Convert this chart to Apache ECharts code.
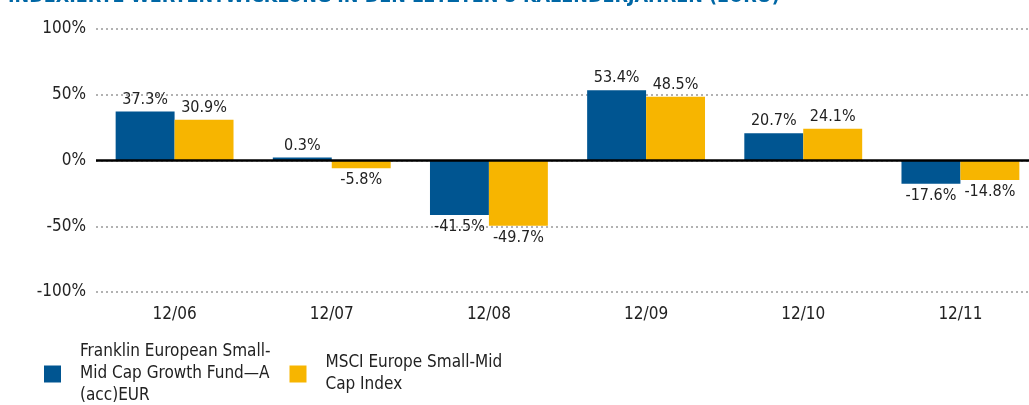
<!DOCTYPE html>
<html>
<head>
<meta charset="utf-8">
<script src="https://cdn.jsdelivr.net/npm/echarts@6/dist/echarts.min.js"></script>
<style>
  html, body { margin: 0; padding: 0; background: #fff; }
  #chart { width: 1029px; height: 405px; }
</style>
</head>
<body>
<div id="chart"></div>
<script>
// Jahre (Kalenderjahre)
const categories = ['12/06', '12/07', '12/08', '12/09', '12/10', '12/11'];
// Fonds und Index in %
const fundValues = [37.3, 0.3, -41.5, 53.4, 20.7, -17.6];
const indexValues = [30.9, -5.8, -49.7, 48.5, 24.1, -14.8];
const fundName = 'Franklin European Small-Mid Cap Growth Fund—A (acc)EUR';
const indexName = 'MSCI Europe Small-Mid Cap Index';

const FONT = "'Liberation Sans Narrow', 'DejaVu Sans Condensed', sans-serif";
const BLUE = '#005591';
const YELLOW = '#f7b500';

// Label oben bei positiven, unten bei negativen Werten
function toData(values) {
  return values.map(v => ({
    value: v,
    label: { position: v < 0 ? 'bottom' : 'top' },
  }));
}

const chart = echarts.init(document.getElementById('chart'));

const option = {
  animation: false,
  textStyle: { fontFamily: FONT },
  title: {
    text: 'INDEXIERTE WERTENTWICKLUNG IN DEN LETZTEN 5 KALENDERJAHREN (EURO)',
    left: 3,
    top: -18,
    textStyle: {
      color: '#0067a5',
      fontSize: 19.5,
      fontWeight: 'bold',
      fontFamily: FONT,
    },
  },
  grid: {
    left: 96,
    width: 943,
    top: 29,
    bottom: 113,
    containLabel: false,
    outerBoundsMode: 'none',
  },
  legend: {
    left: 44,
    top: 341,
    padding: 0,
    itemWidth: 17,
    itemHeight: 17,
    itemGap: 19,
    icon: 'rect',
    data: [fundName, indexName],
    formatter: function (name) {
      if (name === fundName) return 'Franklin European Small-\nMid Cap Growth Fund—A\n(acc)EUR';
      return 'MSCI Europe Small-Mid\nCap Index';
    },
    textStyle: {
      color: '#222',
      fontSize: 17,
      lineHeight: 22,
      fontFamily: FONT,
      padding: [0, 0, 0, 14],
    },
  },
  xAxis: {
    type: 'category',
    data: categories,
    axisLine: { show: false, onZero: false },
    axisTick: { show: false },
    axisLabel: {
      color: '#222',
      fontSize: 17,
      margin: 14,
      fontFamily: FONT,
    },
  },
  yAxis: {
    type: 'value',
    min: -100,
    max: 100,
    interval: 50,
    axisLine: { show: false },
    axisTick: { show: false },
    axisLabel: {
      color: '#222',
      fontSize: 17,
      margin: 10,
      fontFamily: FONT,
      formatter: '{value}%',
    },
    splitLine: {
      show: true,
      lineStyle: { color: '#999', width: 1.5, type: [2, 3] },
    },
  },
  series: [
    {
      name: fundName,
      type: 'bar',
      barGap: '0%',
      barCategoryGap: '25%',
      barMinHeight: 3,
      itemStyle: { color: BLUE },
      label: {
        show: true,
        distance: 4,
        color: '#222',
        fontSize: 16,
        fontFamily: FONT,
        formatter: p => p.value.toFixed(1) + '%',
      },
      data: toData(fundValues),
      markLine: {
        silent: true,
        symbol: 'none',
        label: { show: false },
        lineStyle: { color: '#000', width: 2.5, type: 'solid' },
        data: [{ yAxis: 0 }],
        z: 10,
      },
    },
    {
      name: indexName,
      type: 'bar',
      barGap: '0%',
      barCategoryGap: '25%',
      itemStyle: { color: YELLOW },
      label: {
        show: true,
        distance: 4,
        color: '#222',
        fontSize: 16,
        fontFamily: FONT,
        formatter: p => p.value.toFixed(1) + '%',
      },
      data: toData(indexValues),
    },
  ],
};

chart.setOption(option);
</script>
</body>
</html>
